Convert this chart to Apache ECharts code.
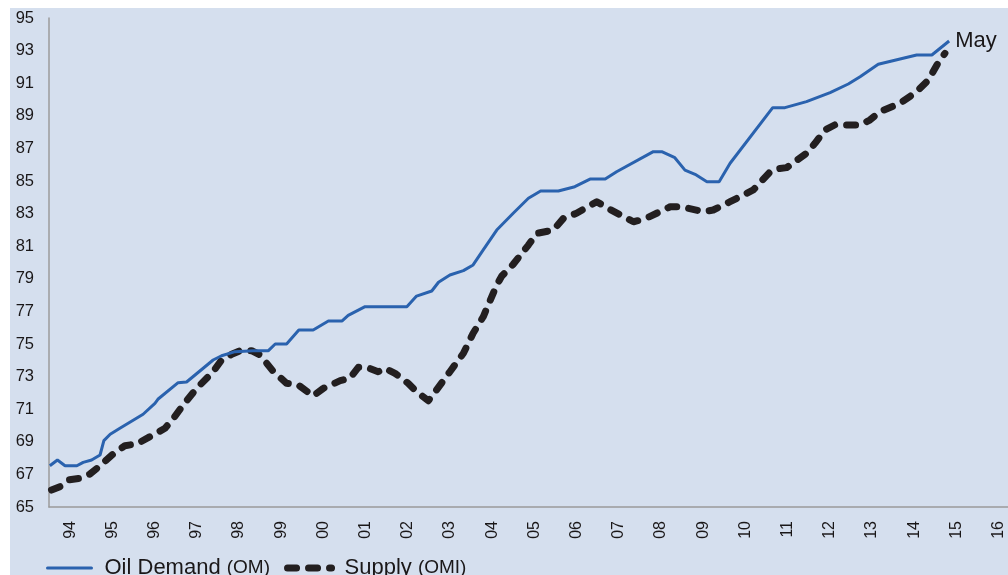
<!DOCTYPE html>
<html>
<head>
<meta charset="utf-8">
<script src="https://cdn.jsdelivr.net/npm/echarts@6/dist/echarts.min.js"></script>
<style>
html,body{margin:0;padding:0;background:#ffffff;}
#chart{width:1008px;height:575px;}
</style>
</head>
<body>
<div id="chart"></div>
<script>
// Time in decimal years, values in million barrels per day
var demandTime = [1994.02,1994.2,1994.38,1994.66,1994.81,1995.01,1995.21,1995.3,1995.45,1995.68,1996.23,1996.51,1996.55,1996.58,1997.06,1997.26,1997.89,1998.09,1998.41,1998.84,1999.2,1999.36,1999.63,1999.92,2000.26,2000.62,2000.94,2001.09,2001.49,2002.48,2002.71,2003.07,2003.23,2003.5,2003.82,2004.05,2004.29,2004.61,2005.0,2005.36,2005.65,2006.07,2006.46,2006.82,2007.18,2007.45,2008.32,2008.52,2008.83,2009.07,2009.31,2009.59,2009.88,2010.14,2011.15,2011.44,2011.95,2012.51,2012.94,2013.22,2013.65,2014.56,2014.92,2015.33];
var demandValue = [67.53,67.88,67.53,67.53,67.74,67.88,68.19,69.07,69.46,69.83,70.69,71.36,71.36,71.61,72.63,72.67,74.02,74.28,74.53,74.59,74.59,75.0,75.0,75.86,75.86,76.41,76.41,76.76,77.29,77.29,77.94,78.25,78.79,79.23,79.5,79.85,80.77,81.99,83.02,83.94,84.39,84.39,84.65,85.12,85.12,85.57,86.8,86.8,86.43,85.67,85.41,84.96,84.96,86.09,89.5,89.5,89.87,90.42,90.95,91.4,92.16,92.73,92.73,93.59];
var supplyTime = [1994.06,1994.26,1994.46,1994.73,1994.97,1995.21,1995.52,1995.8,1996.08,1996.39,1996.75,1996.95,1997.18,1997.5,1997.89,1998.09,1998.33,1998.53,1998.8,1999.0,1999.32,1999.63,1999.91,2000.26,2000.5,2000.9,2001.13,2001.33,2001.53,2001.8,2001.96,2002.2,2002.51,2002.71,2002.99,2003.15,2003.5,2003.82,2004.05,2004.29,2004.61,2004.73,2005.0,2005.36,2005.56,2005.95,2006.19,2006.5,2006.98,2007.29,2007.85,2008.12,2008.72,2008.99,2009.5,2009.74,2010.14,2010.69,2011.09,2011.24,2011.48,2011.95,2012.15,2012.39,2012.62,2013.22,2013.45,2013.69,2014.17,2014.56,2014.84,2015.04,2015.23];
var supplyValue = [66.04,66.25,66.66,66.76,67.02,67.53,68.25,68.76,68.87,69.31,69.83,70.44,71.26,72.28,73.3,74.02,74.37,74.59,74.59,74.33,73.3,72.59,72.48,71.81,72.28,72.75,72.9,73.57,73.57,73.3,73.51,73.2,72.59,72.07,71.52,72.07,73.3,74.43,75.66,76.67,78.62,79.17,79.89,81.07,81.79,81.99,82.71,83.02,83.73,83.26,82.5,82.67,83.42,83.42,83.12,83.22,83.73,84.45,85.57,85.74,85.82,86.7,87.31,88.13,88.44,88.44,88.74,89.25,89.77,90.48,91.2,92.12,92.83];
var seriesNames = ['Oil Demand (OM)', 'Supply (OMI)'];
var endLabelText = 'May';

function zip(a, b) { return a.map(function (t, i) { return [t, b[i]]; }); }

var FONT = 'Liberation Sans, Arial, Helvetica, sans-serif';
var TXT = '#1a1718';
var chart = echarts.init(document.getElementById('chart'), null, {renderer: 'canvas'});
chart.setOption({
  animation: false,
  textStyle: {fontFamily: FONT},
  graphic: [{
    type: 'rect', z: -10, silent: true,
    shape: {x: 10, y: 8, width: 1000, height: 570},
    style: {fill: '#d5dfee'}
  }],
  grid: {left: 49, right: 0, top: 18, bottom: 68, containLabel: false},
  xAxis: {
    type: 'value', min: 1994, max: 2016.725, interval: 0.5,
    axisLine: {show: true, onZero: false, lineStyle: {color: '#9b9b9b', width: 1.5}},
    axisTick: {show: false},
    splitLine: {show: false},
    axisLabel: {
      rotate: 90, margin: 14, fontSize: 16, color: TXT, fontFamily: FONT,
      showMaxLabel: false, showMinLabel: false,
      formatter: function (v) {
        var f = v - Math.floor(v);
        return Math.abs(f - 0.5) < 0.01 ? String(Math.floor(v)).slice(-2) : '';
      }
    }
  },
  yAxis: {
    type: 'value', min: 65, max: 95, interval: 2,
    axisLine: {show: true, lineStyle: {color: '#9b9b9b', width: 1.5}},
    axisTick: {show: false},
    splitLine: {show: false},
    axisLabel: {margin: 15, fontSize: 16.5, color: TXT, fontFamily: FONT}
  },
  legend: {
    left: 46, top: 557, padding: 0, itemWidth: 44, itemHeight: 14, itemGap: 14,
    data: seriesNames,
    itemStyle: {opacity: 0},
    lineStyle: {width: 'inherit', cap: 'round'},
    textStyle: {
      color: TXT, fontFamily: FONT, fontSize: 22, padding: [0, 0, 0, 8],
      rich: {
        a: {fontSize: 22, color: TXT, fontFamily: FONT},
        b: {fontSize: 19, color: TXT, fontFamily: FONT}
      }
    },
    formatter: function (name) {
      var i = name.indexOf(' (');
      return '{a|' + name.slice(0, i + 1) + '}{b|' + name.slice(i + 1) + '}';
    }
  },
  series: [{
    name: seriesNames[0], type: 'line', data: zip(demandTime, demandValue),
    showSymbol: false, symbol: 'none', z: 3,
    lineStyle: {color: '#2a62ae', width: 3},
    itemStyle: {color: '#2a62ae'},
    endLabel: {show: true, formatter: endLabelText, fontSize: 22, color: TXT, fontFamily: FONT, distance: 6}
  }, {
    name: seriesNames[1], type: 'line', data: zip(supplyTime, supplyValue),
    showSymbol: false, symbol: 'none', z: 2,
    lineStyle: {color: '#231f20', width: 7, type: [9, 12], cap: 'round', join: 'round'},
    itemStyle: {color: '#231f20'}
  }]
});
</script>
</body>
</html>
